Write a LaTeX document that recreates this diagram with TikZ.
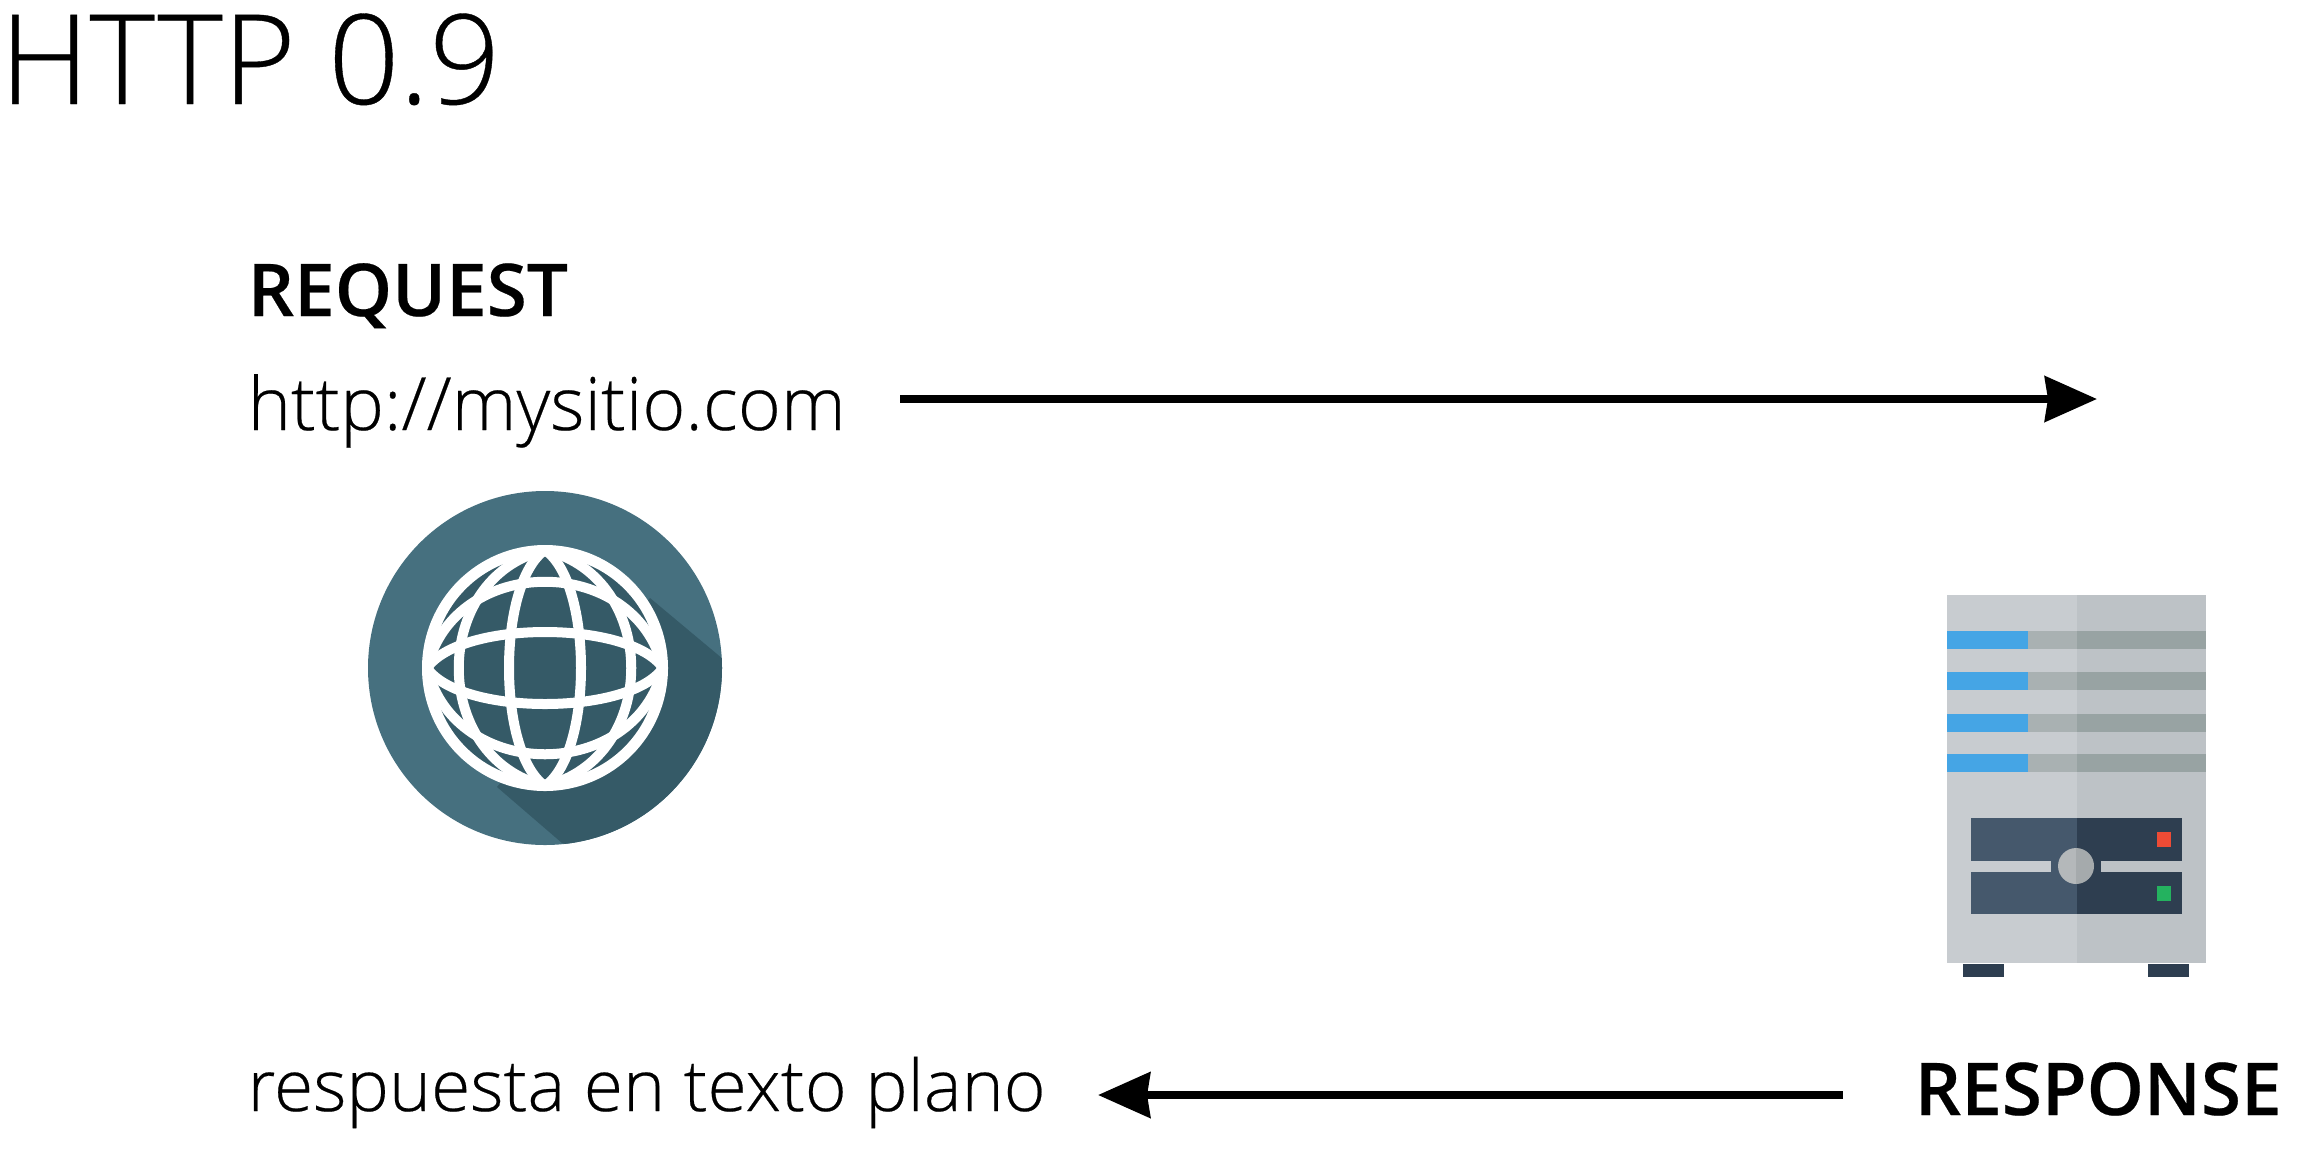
\documentclass[tikz,border=0pt]{standalone}
\usepackage{fontspec}
\setmainfont{Open Sans Light}[BoldFont={Open Sans Semibold},FakeBold=0.3]
\usetikzlibrary{arrows.meta}
\definecolor{globelight}{HTML}{46707F}
\definecolor{globedark}{HTML}{355A67}
\definecolor{caseleft}{HTML}{C8CCD0}
\definecolor{caseright}{HTML}{BDC2C6}
\definecolor{stripeleft}{HTML}{A9B1B2}
\definecolor{striperight}{HTML}{98A3A3}
\definecolor{stripeblue}{HTML}{45A5E5}
\definecolor{panelleft}{HTML}{45586C}
\definecolor{panelright}{HTML}{2E3E50}
\definecolor{knobleft}{HTML}{B4B8BA}
\definecolor{knobright}{HTML}{A5AAAC}
\definecolor{ledred}{HTML}{EE4B35}
\definecolor{ledgreen}{HTML}{24B25F}
\tikzset{
  label/.style={anchor=base west,inner sep=0pt,text=black},
  flow/.style={-{Stealth[length=52*0.2845pt,width=45*0.2845pt,inset=3*0.2845pt]},line width=8*0.2845pt,black},
  wire/.style={white,line width=10*0.2845pt}
}
\begin{document}
\begin{tikzpicture}[x=0.01cm,y=-0.01cm]
  \useasboundingbox (0,0) rectangle (2307,1154);
  \node[label] (title) at (-1,104) {\fontsize{35.5}{35.5}\selectfont HTTP 0.9};
  \node[label] (request) at (247,316) {\fontsize{20.7}{20.7}\selectfont\bfseries REQUEST};
  \node[label] (url) at (247,430) {\fontsize{20.9}{20.9}\selectfont http://mysitio.com};
  \node[label] (answer) at (247,1111) {\fontsize{20.3}{20.3}\selectfont respuesta en texto plano};
  \node[label] (response) at (1914,1115) {\fontsize{20.7}{20.7}\selectfont\bfseries RESPONSE};
  \coordinate (reqstart) at (900,399);
  \coordinate (reqend) at (2097,399);
  \coordinate (respstart) at (1843,1095);
  \coordinate (respend) at (1098,1095);
  \draw[flow] (reqstart) -- (reqend);
  \draw[flow] (respstart) -- (respend);
  % globe
  \fill[globelight] (545,668) circle (177);
  \begin{scope}
    \clip (545,668) circle (177);
    \fill[globedark] (650,598) -- (760,690) -- (760,900) -- (562,843) -- (497,787) -- cycle;
  \end{scope}
  \fill[globedark] (545,668) circle (118);
  \begin{scope}
    \clip (545,668) circle (118);
    \foreach \dx/\c in {48/85,115/90} {
      \draw[wire] (545,550) .. controls (545-\dx,668-\c) and (545-\dx,668+\c) .. (545,786)
        .. controls (545+\dx,668+\c) and (545+\dx,668-\c) .. cycle;
      \draw[wire] (427,668) .. controls (545-\c,668-\dx) and (545+\c,668-\dx) .. (663,668)
        .. controls (545+\c,668+\dx) and (545-\c,668+\dx) .. cycle;
    }
  \end{scope}
  \draw[white,line width=11*0.2845pt] (545,668) circle (117.5);
  % server
  \fill[caseleft] (1947,595) rectangle (2077,963);
  \fill[caseright] (2077,595) rectangle (2206,963);
  \foreach \y in {631,672,714,754} {
    \fill[stripeleft] (2028,\y) rectangle (2077,\y+18);
    \fill[striperight] (2077,\y) rectangle (2206,\y+18);
    \fill[stripeblue] (1947,\y) rectangle (2028,\y+18);
  }
  \fill[panelleft] (1971,818) rectangle (2077,914);
  \fill[panelright] (2077,818) rectangle (2182,914);
  \fill[caseleft] (1971,861) rectangle (2051,872);
  \fill[caseright] (2101,861) rectangle (2182,872);
  \fill[knobleft] (2076,848) arc (-90:-270:18) -- cycle;
  \fill[knobright] (2076,848) arc (-90:90:18) -- cycle;
  \fill[ledred] (2157,832) rectangle (2171,847);
  \fill[ledgreen] (2157,886) rectangle (2171,901);
  \fill[panelright] (1963,964) rectangle (2004,977);
  \fill[panelright] (2148,964) rectangle (2189,977);
\end{tikzpicture}
\end{document}
